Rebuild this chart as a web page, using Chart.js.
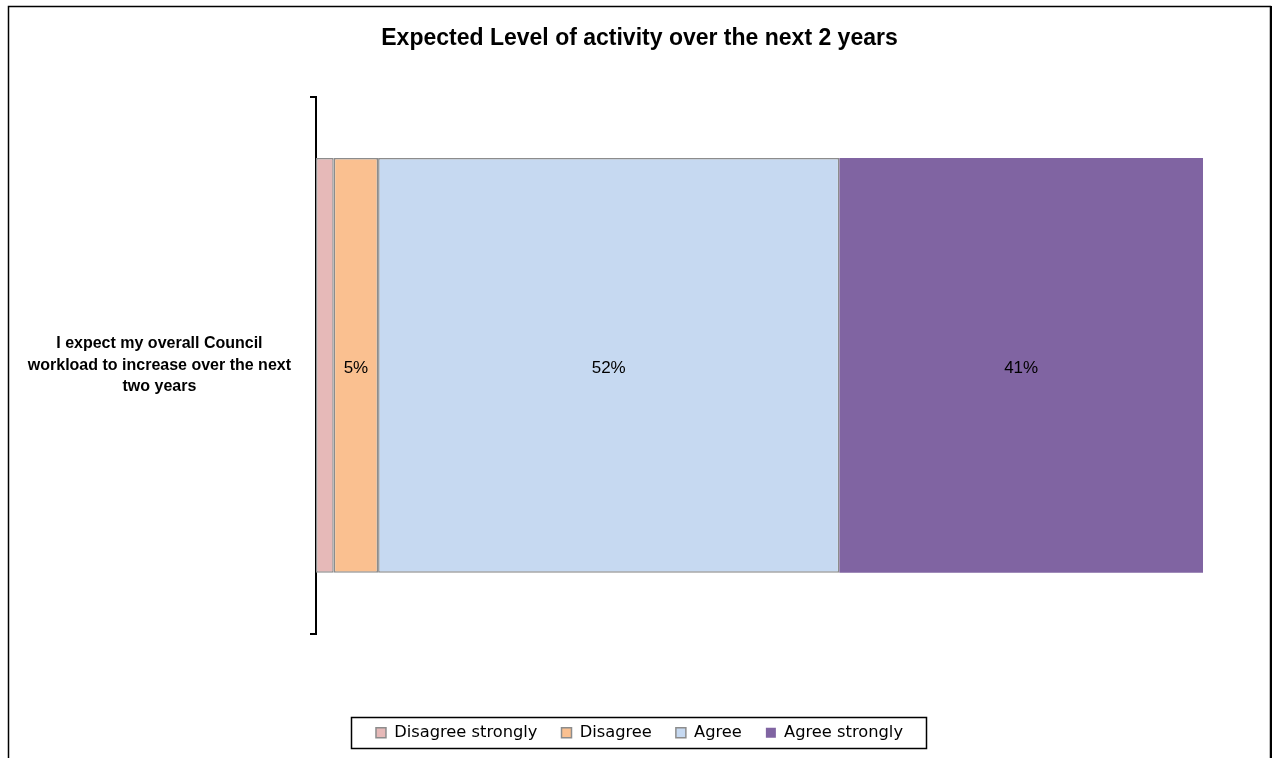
<!DOCTYPE html>
<html>
<head>
<meta charset="utf-8">
<script src="https://cdn.jsdelivr.net/npm/chart.js@4/dist/chart.umd.min.js"></script>
<style>
  html, body { margin: 0; padding: 0; background: #fff; }
  #wrap { width: 1279px; height: 758px; }
</style>
</head>
<body>
<div id="wrap"><canvas id="activity-chart" width="1279" height="758"></canvas></div>
<script>
// Chart data
const chartTitle = "Expected Level of activity over the next 2 years";
const categories = [["I expect my overall Council", "workload to increase over the next", "two years"]];
const seriesNames = ["Disagree strongly", "Disagree", "Agree", "Agree strongly"];
const disagreeStrongly = [2];
const disagree = [5];
const agree = [52];
const agreeStrongly = [41];

const seriesValues = [disagreeStrongly, disagree, agree, agreeStrongly];
const fillColors = ["#e6b9b8", "#fac090", "#c6d9f1", "#8064a2"];
const edgeColors = ["#8c8c8c", "#8c8c8c", "#8c8c8c", "#8064a2"];
const edgeWidths = [1.5, 1.5, 1.5, 0];

// White background + outer frame like the original export
const framePlugin = {
    id: "frame",
    beforeDraw(chart) {
        const ctx = chart.ctx;
        ctx.save();
        ctx.fillStyle = "#fff";
        ctx.fillRect(0, 0, chart.width, chart.height);
        ctx.strokeStyle = "#000";
        ctx.lineWidth = 1.5;
        ctx.strokeRect(8.5, 6.5, 1262, 800);
        ctx.lineWidth = 2;
        ctx.beginPath();
        ctx.moveTo(1271, 6);
        ctx.lineTo(1271, chart.height);
        ctx.stroke();
        ctx.restore();
    }
};

// Percent labels in the middle of each segment (small ones skipped)
const valueLabels = {
    id: "valueLabels",
    afterDatasetsDraw(chart) {
        const ctx = chart.ctx;
        ctx.save();
        ctx.font = "17px 'Liberation Sans', Arial, sans-serif";
        ctx.fillStyle = "#000";
        ctx.textAlign = "center";
        ctx.textBaseline = "middle";
        chart.data.datasets.forEach((ds, i) => {
            chart.getDatasetMeta(i).data.forEach((el, j) => {
                const v = ds.data[j];
                if (v < 3) return;
                const p = el.getCenterPoint();
                ctx.fillText(v + "%", p.x, p.y + 3);
            });
        });
        ctx.restore();
    }
};

// Box round the legend
const legendBox = {
    id: "legendBox",
    afterDraw(chart) {
        const boxes = chart.legend.legendHitBoxes;
        if (!boxes || !boxes.length) return;
        const first = boxes[0];
        const last = boxes[boxes.length - 1];
        const cy = first.top + first.height / 2;
        const ctx = chart.ctx;
        ctx.save();
        ctx.strokeStyle = "#000";
        ctx.lineWidth = 1.5;
        const left = Math.round(first.left - 25) + 0.5;
        const right = Math.round(last.left + last.width + 23) + 0.5;
        ctx.strokeRect(left, Math.round(cy - 16) + 0.5, right - left, 31);
        ctx.restore();
    }
};

new Chart(document.getElementById("activity-chart"), {
    type: "bar",
    data: {
        labels: categories,
        datasets: seriesNames.map((name, i) => ({
            label: name,
            data: seriesValues[i],
            backgroundColor: fillColors[i],
            borderColor: edgeColors[i],
            borderWidth: edgeWidths[i],
            borderSkipped: false,
            barPercentage: 0.773,
            categoryPercentage: 1
        }))
    },
    options: {
        indexAxis: "y",
        responsive: false,
        animation: false,
        layout: {
            padding: { top: 0, left: 0, right: 0, bottom: 7 }
        },
        plugins: {
            title: {
                display: true,
                text: chartTitle,
                color: "#000",
                font: { family: "'Liberation Sans', Arial, sans-serif", size: 23, weight: "bold" },
                padding: { top: 25, bottom: 44.4 }
            },
            legend: {
                position: "bottom",
                labels: {
                    color: "#000",
                    font: { family: "'DejaVu Sans', Verdana, sans-serif", size: 16.3 },
                    boxWidth: 10,
                    boxHeight: 10,
                    padding: 24
                }
            },
            tooltip: { enabled: false }
        },
        scales: {
            x: {
                stacked: true,
                min: 0,
                max: 100,
                display: true,
                grid: { display: false },
                border: { display: false },
                ticks: { display: false },
                afterFit: (s) => { s.height = 67; }
            },
            y: {
                stacked: true,
                border: { display: true, color: "#000", width: 2 },
                grid: {
                    display: true,
                    drawOnChartArea: false,
                    drawTicks: true,
                    tickLength: 6,
                    color: "#000",
                    lineWidth: 2
                },
                ticks: {
                    color: "#000",
                    crossAlign: "center",
                    padding: 19,
                    font: { family: "'Liberation Sans', Arial, sans-serif", size: 16, weight: "bold", lineHeight: 1.35 }
                },
                afterFit: (s) => { s.width = 316; }
            },
            // empty right-hand spacer so the plot ends where the original does
            spacer: {
                type: "category",
                axis: "y",
                position: "right",
                display: true,
                grid: { display: false },
                border: { display: false },
                ticks: { display: false },
                afterFit: (s) => { s.width = 76; }
            }
        }
    },
    plugins: [framePlugin, valueLabels, legendBox]
});
</script>
</body>
</html>
